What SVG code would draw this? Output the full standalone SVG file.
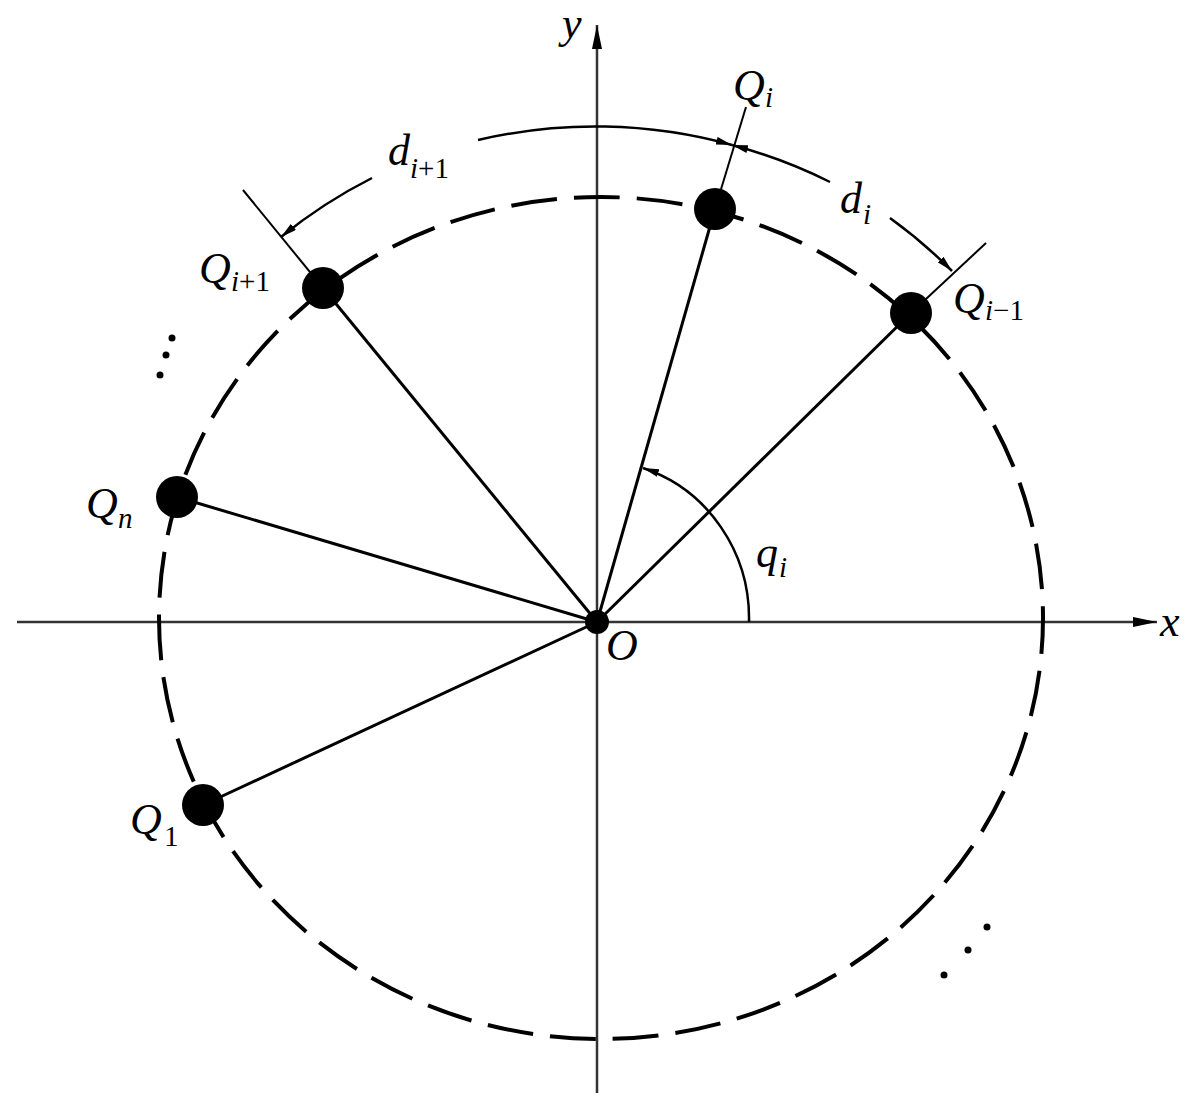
<svg xmlns="http://www.w3.org/2000/svg" width="1200" height="1103" viewBox="0 0 1200 1103">
<style>
.axis{stroke:#333;stroke-width:2.5;fill:none}
.ray{stroke:#000;stroke-width:3;fill:none}
.tick{stroke:#000;stroke-width:2;fill:none}
.dim{stroke:#000;stroke-width:2.5;fill:none}
.dash{stroke:#000;stroke-width:4;fill:none;stroke-dasharray:46 17}
.pt{fill:#000}
.lbl{font-family:"Liberation Serif","Times New Roman",serif;font-style:italic;font-size:44px;fill:#000}
.sub{font-size:29px}
.up{font-style:normal}
</style>
<defs>
<marker id="arr" markerUnits="userSpaceOnUse" viewBox="0 0 16 8" refX="16" refY="4" markerWidth="16" markerHeight="8" orient="auto-start-reverse">
<path d="M0,0 L16,4 L0,8 z" fill="#000"/>
</marker>
<marker id="axarr" markerUnits="userSpaceOnUse" viewBox="0 0 24 10" refX="24" refY="5" markerWidth="24" markerHeight="10" orient="auto">
<path d="M0,0 L24,5 L0,10 z" fill="#000"/>
</marker>
</defs>

<g id="axes">
<line class="axis" x1="17" y1="622" x2="1157" y2="622" marker-end="url(#axarr)"/>
<line class="axis" x1="597" y1="1093" x2="597" y2="25" marker-end="url(#axarr)"/>
<text class="lbl" x="1160" y="636">x</text>
<text class="lbl" x="562" y="38">y</text>
</g>

<g id="circle">
<ellipse class="dash" cx="601" cy="618" rx="442" ry="421" stroke-dashoffset="10"/>
</g>

<g id="connectors">
<line class="ray" x1="597" y1="622" x2="715" y2="209"/>
<line class="ray" x1="597" y1="622" x2="911" y2="313"/>
<line class="ray" x1="597" y1="622" x2="323" y2="288"/>
<line class="ray" x1="597" y1="622" x2="177" y2="497"/>
<line class="ray" x1="597" y1="622" x2="203" y2="805"/>
<line class="tick" x1="715" y1="209" x2="746" y2="107"/>
<line class="tick" x1="323" y1="288" x2="243" y2="190"/>
<line class="tick" x1="911" y1="313" x2="986" y2="243"/>
<path class="dim" d="M372,178 A505,495 0 0 0 281,237" marker-end="url(#arr)"/>
<path class="dim" d="M478,140 A505,495 0 0 1 732,145" marker-end="url(#arr)"/>
<path class="dim" d="M732,145 A505,495 0 0 1 830,182" marker-start="url(#arr)"/>
<path class="dim" d="M890,218 A505,495 0 0 1 952,271" marker-end="url(#arr)"/>
<path class="dim" d="M749,622 A153,158 0 0 0 643,468" marker-end="url(#arr)"/>
</g>

<g id="O"><circle class="pt" cx="597" cy="622" r="12"/><text class="lbl" x="606" y="660">O</text></g>
<g id="Qi"><circle class="pt" cx="715" cy="209" r="21"/><text class="lbl" x="733" y="100">Q<tspan class="sub" x="765" y="107">i</tspan></text></g>
<g id="Qim1"><circle class="pt" cx="911" cy="313" r="21"/><text class="lbl" x="953" y="313">Q<tspan class="sub" x="985" y="320">i<tspan class="up">−1</tspan></tspan></text></g>
<g id="Qip1"><circle class="pt" cx="323" cy="288" r="21"/><text class="lbl" x="199" y="283">Q<tspan class="sub" x="231" y="291">i<tspan class="up">+1</tspan></tspan></text></g>
<g id="Qn"><circle class="pt" cx="177" cy="497" r="21"/><text class="lbl" x="86" y="518">Q<tspan class="sub" x="118" y="528">n</tspan></text></g>
<g id="Q1"><circle class="pt" cx="203" cy="805" r="21"/><text class="lbl" x="130" y="834">Q<tspan class="sub up" x="164" y="846">1</tspan></text></g>

<g id="labels">
<text class="lbl" x="388" y="165">d<tspan class="sub" x="410" y="178">i<tspan class="up">+1</tspan></tspan></text>
<text class="lbl" x="840" y="213">d<tspan class="sub" x="863" y="224">i</tspan></text>
<text class="lbl" x="756" y="567">q<tspan class="sub" x="779" y="577">i</tspan></text>
</g>

<g id="ellipsis">
<circle class="pt" cx="172" cy="338" r="3.5"/>
<circle class="pt" cx="166" cy="355" r="3.5"/>
<circle class="pt" cx="160" cy="375" r="3.5"/>
<circle class="pt" cx="987" cy="927" r="3.5"/>
<circle class="pt" cx="968" cy="950" r="3.5"/>
<circle class="pt" cx="944" cy="975" r="3.5"/>
</g>
</svg>
